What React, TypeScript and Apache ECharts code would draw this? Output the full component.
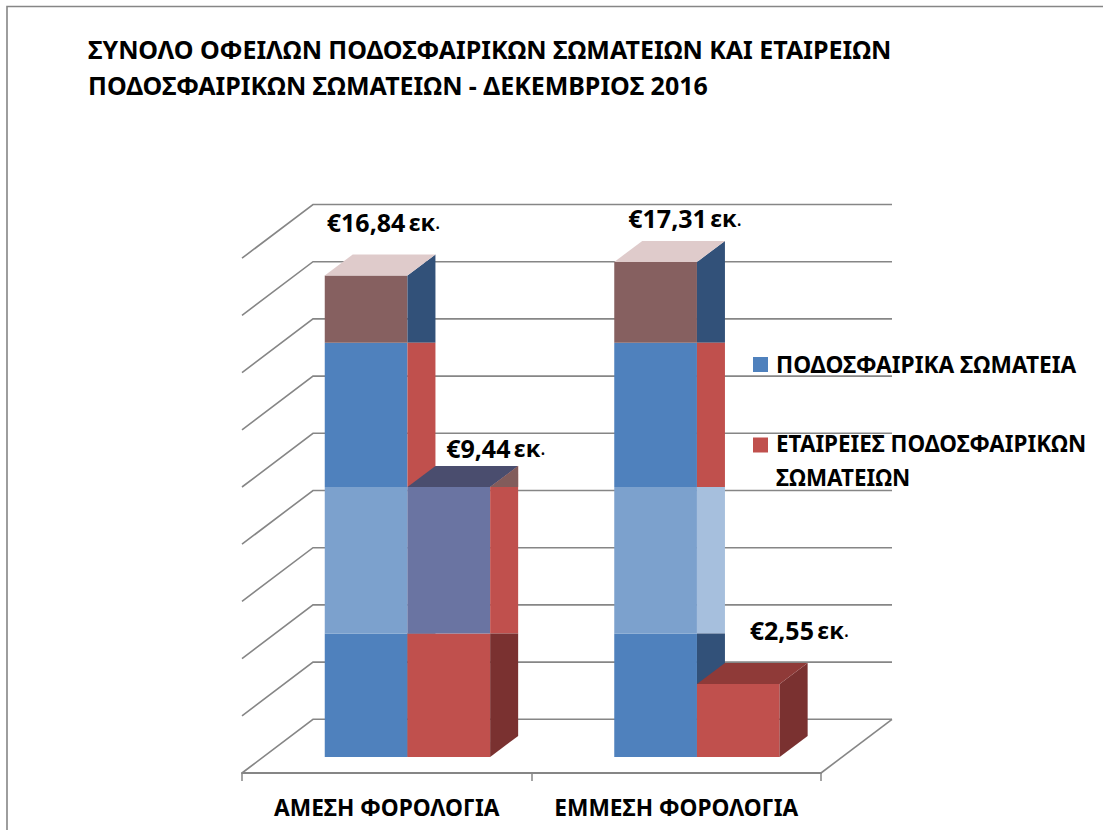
import React, { useEffect, useRef } from "react";
import * as echarts from "echarts";

const titleLines = [
  "ΣΥΝΟΛΟ ΟΦΕΙΛΩΝ ΠΟΔΟΣΦΑΙΡΙΚΩΝ ΣΩΜΑΤΕΙΩΝ ΚΑΙ ΕΤΑΙΡΕΙΩΝ",
  "ΠΟΔΟΣΦΑΙΡΙΚΩΝ ΣΩΜΑΤΕΙΩΝ - ΔΕΚΕΜΒΡΙΟΣ 2016",
];
const categories = ["ΑΜΕΣΗ ΦΟΡΟΛΟΓΙΑ", "ΕΜΜΕΣΗ ΦΟΡΟΛΟΓΙΑ"];
const clubsName = "ΠΟΔΟΣΦΑΙΡΙΚΑ ΣΩΜΑΤΕΙΑ";
const companiesName = "ΕΤΑΙΡΕΙΕΣ ΠΟΔΟΣΦΑΙΡΙΚΩΝ\nΣΩΜΑΤΕΙΩΝ";
const clubs = [16.84, 17.31];
const companies = [9.44, 2.55];
const yTicks = [0, 2, 4, 6, 8, 10, 12, 14, 16, 18];
// Horizontal colour changes seen across the columns (axis values)
const lowBreak = 4.32;
const midBreak = 9.44;
const highBreak = 14.48;

const FONT = '"Noto Sans", sans-serif';
const GRID = "#868686";
const BLUE = "#4f81bd";
const RED = "#c0504d";
const DARK_RED = "#7a3130";
const DARK_BLUE = "#325179";
const BROWN = "#866060";
const PINK = "#dfcbcb";
const LIGHT_BLUE = "#7ca1cd";
const PALE_BLUE = "#a6bfdd";
const PURPLE = "#6a74a2";
const SLATE = "#4a4d6e";
const TIP = "#825c5b";
const RED_TOP = "#8f3a38";

// projection offsets, px
const WALL_DX = 71;
const WALL_DY = -53.7;
const BAR_DX = 20.7;
const BAR_DY = -16;
const SIDE_DX = 28;
const SIDE_DY = -21;
const BAR_W = 82.7;

const clubsLabelShift = [[2, -53.5], [14, -43.5]];
const companiesLabelShift = [[-44, -39.5], [-30, -54.5]];

function poly(points: number[][], fill: string) {
  return { type: "polygon", shape: { points }, style: { fill }, silent: true };
}

function labelEl(v: number, x: number, y: number) {
  return {
    type: "text",
    silent: true,
    z2: 20,
    style: {
      x,
      y,
      text: `{a|€${v.toFixed(2).replace(".", ",")}} {b|εκ}{c|.}`,
      align: "left",
      verticalAlign: "middle",
      fill: "#000",
      rich: {
        a: { fontFamily: FONT, fontWeight: 700, fontSize: 25, fill: "#000", color: "#000" },
        b: { fontFamily: FONT, fontWeight: 700, fontSize: 23.5, fill: "#000", color: "#000" },
        c: { fontFamily: FONT, fontWeight: 400, fontSize: 20, fill: "#000", color: "#000" },
      },
    },
  };
}

function sideEls(xl: number, y: (v: number) => number, stops: number[], colors: string[]) {
  const xr = xl + SIDE_DX;
  return colors.map((c, i) => {
    const t = y(stops[i]);
    const b = y(stops[i + 1]);
    const tr = i === 0 ? t + SIDE_DY : t;
    const br = i === colors.length - 1 ? b + SIDE_DY : b;
    return poly([[xl, t], [xr, tr], [xr, br], [xl, b]], c);
  });
}

function frontEls(xl: number, y: (v: number) => number, stops: number[], colors: string[]) {
  return colors.map((c, i) =>
    poly([[xl, y(stops[i])], [xl + BAR_W, y(stops[i])], [xl + BAR_W, y(stops[i + 1])], [xl, y(stops[i + 1])]], c)
  );
}

export default function App() {
  const ref = useRef<HTMLDivElement>(null);
  useEffect(() => {
    const chart = echarts.init(ref.current!, undefined, { renderer: "svg" });
    chart.setOption({
      animation: false,
      backgroundColor: "#fff",
      title: {
        text: titleLines.join("\n"),
        left: 83,
        top: 26,
        textStyle: { fontFamily: FONT, fontWeight: 700, fontSize: 25, lineHeight: 36, color: "#000" },
      },
      grid: { left: 242, top: 258.2, width: 579, height: 514.8, containLabel: false },
      xAxis: {
        type: "category",
        data: categories,
        axisLine: { lineStyle: { color: GRID, width: 2 } },
        axisTick: { show: true, length: 8, lineStyle: { color: GRID, width: 1.5 } },
        axisLabel: { interval: 0, margin: 23, fontFamily: FONT, fontWeight: 700, fontSize: 22.7, color: "#000" },
      },
      yAxis: {
        type: "value",
        min: 0,
        max: 18,
        interval: 2,
        axisLabel: { show: false },
        axisLine: { show: false },
        axisTick: { show: false },
        splitLine: { show: false },
      },
      series: [
        {
          type: "custom",
          name: "walls",
          silent: true,
          clip: false,
          z: 1,
          data: yTicks.map((v) => [0, v]),
          renderItem: (_p: any, api: any) => {
            const [c, y] = api.coord([0, api.value(1)]);
            const bw = api.size([1, 0])[0];
            const x0 = c - bw / 2;
            const isFloor = api.value(1) === 0;
            const style = { stroke: GRID, lineWidth: 1.6, fill: "none" };
            const children: any[] = [
              {
                type: "polyline",
                shape: { points: [[x0, y], [x0 + WALL_DX, y + WALL_DY], [x0 + 2 * bw + WALL_DX, y + WALL_DY]] },
                style,
              },
            ];
            if (isFloor) {
              children.push({
                type: "line",
                shape: { x1: x0 + 2 * bw, y1: y, x2: x0 + 2 * bw + WALL_DX, y2: y + WALL_DY },
                style,
              });
            }
            return { type: "group", children };
          },
        },
        {
          type: "custom",
          name: clubsName,
          silent: true,
          clip: false,
          z: 2,
          itemStyle: { color: BLUE },
          data: clubs.map((v, i) => [i, v]),
          renderItem: (p: any, api: any) => {
            const i = p.dataIndex;
            const v = api.value(1);
            const [c] = api.coord([i, 0]);
            const xl = c + BAR_DX - BAR_W;
            const y = (val: number) => api.coord([i, val])[1] + BAR_DY;
            const yv = y(v);
            return {
              type: "group",
              children: [
                ...frontEls(xl, y, [0, lowBreak, midBreak, highBreak, v], [BLUE, LIGHT_BLUE, BLUE, BROWN]),
                ...sideEls(xl + BAR_W, y, [v, highBreak, midBreak, lowBreak, 0], [DARK_BLUE, RED, PALE_BLUE, DARK_BLUE]),
                poly([[xl, yv], [xl + SIDE_DX, yv + SIDE_DY], [xl + BAR_W + SIDE_DX, yv + SIDE_DY], [xl + BAR_W, yv]], PINK),
                labelEl(v, xl + clubsLabelShift[i][0], yv + clubsLabelShift[i][1]),
              ],
            };
          },
        },
        {
          type: "custom",
          name: companiesName,
          silent: true,
          clip: false,
          z: 3,
          itemStyle: { color: RED },
          data: companies.map((v, i) => [i, v]),
          renderItem: (p: any, api: any) => {
            const i = p.dataIndex;
            const v = api.value(1);
            const [c] = api.coord([i, 0]);
            const xl = c + BAR_DX;
            const xr = xl + BAR_W;
            const y = (val: number) => api.coord([i, val])[1] + BAR_DY;
            const yv = y(v);
            const tall = v > lowBreak;
            const children: any[] = tall
              ? [
                  ...frontEls(xl, y, [0, lowBreak, v], [RED, PURPLE]),
                  ...sideEls(xr, y, [v, lowBreak, 0], [RED, DARK_RED]),
                ]
              : [
                  ...frontEls(xl, y, [0, v], [RED]),
                  ...sideEls(xr, y, [v, 0], [DARK_RED]),
                ];
            children.push(
              poly([[xl, yv], [xl + SIDE_DX, yv + SIDE_DY], [xr + SIDE_DX, yv + SIDE_DY], [xr, yv]], tall ? SLATE : RED_TOP)
            );
            if (tall) children.push(poly([[xr, yv], [xr + SIDE_DX, yv + SIDE_DY], [xr + SIDE_DX, yv]], TIP));
            children.push(labelEl(v, xr + companiesLabelShift[i][0], yv + companiesLabelShift[i][1]));
            return { type: "group", children };
          },
        },
      ],
      graphic: [
        {
          type: "polyline",
          silent: true,
          z: 10,
          shape: { points: [[7, 830], [7, 6.5], [1103, 6.5]] },
          style: { stroke: GRID, lineWidth: 1.6, fill: "none" },
        },
        { type: "rect", silent: true, z: 10, shape: { x: 753, y: 357, width: 15, height: 15 }, style: { fill: BLUE } },
        { type: "rect", silent: true, z: 10, shape: { x: 753, y: 437.5, width: 15, height: 15 }, style: { fill: RED } },
        {
          type: "text",
          silent: true,
          z: 10,
          style: { x: 776, y: 364, text: clubsName, fontFamily: FONT, fontWeight: 700, fontSize: 22.7, fill: "#000", verticalAlign: "middle" },
        },
        {
          type: "text",
          silent: true,
          z: 10,
          style: { x: 776, y: 460, text: companiesName, fontFamily: FONT, fontWeight: 700, fontSize: 22.4, lineHeight: 34, fill: "#000", verticalAlign: "middle" },
        },
      ],
    });
    return () => chart.dispose();
  }, []);
  return <div ref={ref} style={{ position: "absolute", left: 0, top: 0, width: 1103, height: 830 }} />;
}
